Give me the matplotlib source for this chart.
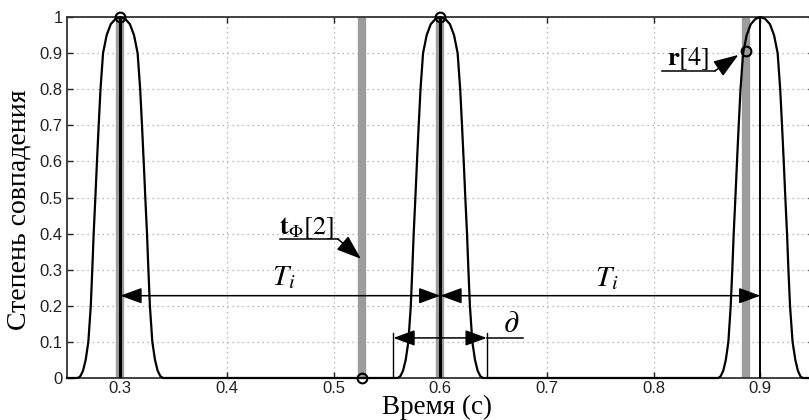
import matplotlib
matplotlib.use("Agg")
import matplotlib.pyplot as plt

# ---------------- data ----------------
pulse_values = [0, 0.005, 0.02, 0.05, 0.1, 0.2, 0.3, 0.4, 0.5, 0.6, 0.7, 0.8, 0.9,
                0.95, 0.98, 0.995, 1.0, 0.995, 0.98, 0.95, 0.9, 0.8, 0.7, 0.6, 0.5,
                0.4, 0.3, 0.2, 0.1, 0.05, 0.02, 0.005, 0]
peak1_t = [0.2600, 0.2625, 0.2650, 0.2675, 0.2700, 0.2723, 0.2737, 0.2750, 0.2766,
           0.2781, 0.2797, 0.2814, 0.2838, 0.2872, 0.2910, 0.2955, 0.3000, 0.3045,
           0.3090, 0.3128, 0.3162, 0.3186, 0.3203, 0.3219, 0.3234, 0.3250, 0.3263,
           0.3277, 0.3300, 0.3325, 0.3350, 0.3375, 0.3400]
peak2_t = [0.5600, 0.5625, 0.5650, 0.5675, 0.5700, 0.5723, 0.5737, 0.5750, 0.5766,
           0.5781, 0.5797, 0.5814, 0.5838, 0.5872, 0.5910, 0.5955, 0.6000, 0.6045,
           0.6090, 0.6128, 0.6162, 0.6186, 0.6203, 0.6219, 0.6234, 0.6250, 0.6263,
           0.6277, 0.6300, 0.6325, 0.6350, 0.6375, 0.6400]
peak3_t = [0.8605, 0.8628, 0.8652, 0.8676, 0.8700, 0.8722, 0.8737, 0.8750, 0.8766,
           0.8781, 0.8797, 0.8814, 0.8838, 0.8872, 0.8910, 0.8955, 0.9000, 0.9045,
           0.9090, 0.9128, 0.9162, 0.9186, 0.9203, 0.9219, 0.9234, 0.9250, 0.9263,
           0.9278, 0.9302, 0.9328, 0.9352, 0.9375, 0.9395]
x_start, x_end = 0.25, 0.95

peak_times = [0.3, 0.6, 0.9]            # thin black verticals
gray_times = [0.3, 0.5265, 0.6, 0.8867] # thick grey bars
circle_t = [0.3, 0.6, 0.5265, 0.8867]
circle_y = [1.0, 1.0, 0.0, 0.905]

Ti_arrow_y = 0.228
d_left, d_right, d_line_end, d_y = 0.556, 0.6435, 0.6775, 0.111

x_ticks = [0.3, 0.4, 0.5, 0.6, 0.7, 0.8, 0.9]
x_ticklabels = ["0.3", "0.4", "0.5", "0.6", "0.7", "0.8", "0.9"]
y_ticks = [0, 0.1, 0.2, 0.3, 0.4, 0.5, 0.6, 0.7, 0.8, 0.9, 1.0]
y_ticklabels = ["0", "0.1", "0.2", "0.3", "0.4", "0.5", "0.6", "0.7", "0.8", "0.9", "1"]

xlabel = "Время (с)"
ylabel = "Степень совпадения"
label_T = r"$T_i$"
label_d = r"$\partial$"
label_tf = r"$\mathbf{t}_{\Phi}\mathrm{[2]}$"
label_r = r"$\mathbf{r}\mathrm{[4]}$"

# ---------------- style ----------------
plt.rcParams["mathtext.fontset"] = "stix"
plt.rcParams["font.family"] = ["Liberation Serif", "DejaVu Serif"]

curve_t = [x_start] + peak1_t + peak2_t + peak3_t + [x_end]
curve_y = [0] + pulse_values + pulse_values + pulse_values + [0]

fig = plt.figure(figsize=(8.09, 4.2), dpi=100)
ax = fig.add_axes([67 / 809, 42 / 420, 746.7 / 809, 361 / 420])
ax.set_xlim(x_start, x_end)
ax.set_ylim(0, 1)

ax.set_xticks(x_ticks)
ax.set_xticklabels(x_ticklabels)
ax.set_yticks(y_ticks)
ax.set_yticklabels(y_ticklabels)
for lab in ax.get_xticklabels() + ax.get_yticklabels():
    lab.set_family(["Liberation Sans", "DejaVu Sans"])
    lab.set_fontsize(12)
    lab.set_color("#222222")
ax.tick_params(direction="in", length=4, width=1.0, top=True, right=True,
               colors="#222222")
ax.tick_params(axis="y", pad=3)
ax.tick_params(axis="x", pad=2)
for s in ax.spines.values():
    s.set_linewidth(1.3)
    s.set_color("#333333")

ax.grid(True, linestyle=(0, (1, 3)), color="#a5a5a5", linewidth=0.9)
ax.set_axisbelow(True)

# grey bars
for t in gray_times:
    ax.axvline(t, color="#9c9c9c", lw=6.0, zorder=2)
# black vertical lines at peaks
for t, w in zip(peak_times, [2.2, 2.2, 1.4]):
    ax.axvline(t, color="black", lw=w, zorder=3)

# curve
ax.plot(curve_t, curve_y, color="black", lw=1.6, zorder=4, clip_on=False)

# circles
ax.plot(circle_t, circle_y, linestyle="none", marker="o", ms=7, mfc="none",
        mec="black", mew=1.5, zorder=6, clip_on=False)

arrow_kw = dict(arrowstyle="<|-|>,head_length=0.6,head_width=0.22", color="black",
                lw=1.1, shrinkA=0, shrinkB=0, mutation_scale=22)
# T_i arrows
ax.annotate("", xy=(peak_times[0], Ti_arrow_y), xytext=(peak_times[1], Ti_arrow_y),
            arrowprops=arrow_kw, zorder=5)
ax.annotate("", xy=(peak_times[1], Ti_arrow_y), xytext=(peak_times[2], Ti_arrow_y),
            arrowprops=arrow_kw, zorder=5)
ax.text(0.4534, 0.258, label_T, fontsize=21, ha="center", va="baseline", zorder=7)
ax.text(0.7563, 0.255, label_T, fontsize=21, ha="center", va="baseline", zorder=7)

# ∂ dimension
ax.plot([d_left, d_left], [0, 0.125], color="black", lw=1.0, zorder=5)
ax.plot([d_right, d_right], [0, 0.125], color="black", lw=1.0, zorder=5)
ax.plot([d_right, d_line_end], [d_y, d_y], color="black", lw=1.1, zorder=5)
ax.annotate("", xy=(d_left, d_y), xytext=(d_right, d_y), arrowprops=arrow_kw, zorder=5)
ax.text(0.6665, 0.128, label_d, fontsize=22, ha="center", va="baseline", zorder=7)

# t_Φ[2] leader
lead_kw = dict(arrowstyle="-|>,head_length=0.7,head_width=0.25", color="black",
               lw=1.1, shrinkA=0, shrinkB=0, mutation_scale=22)
ax.plot([0.4497, 0.504], [0.385, 0.385], color="black", lw=1.1, zorder=5)
ax.annotate("", xy=(0.5256, 0.33), xytext=(0.504, 0.385), arrowprops=lead_kw, zorder=5)
ax.text(0.4487, 0.399, label_tf, fontsize=19, ha="left", va="baseline", zorder=7)

# r[4] leader
ax.plot([0.8078, 0.8575], [0.851, 0.851], color="black", lw=1.1, zorder=5)
ax.annotate("", xy=(0.8794, 0.895), xytext=(0.8575, 0.851), arrowprops=lead_kw, zorder=5)
ax.text(0.8125, 0.867, label_r, fontsize=19, ha="left", va="baseline", zorder=7)

ax.set_xlabel(xlabel, fontsize=19.5)
ax.set_ylabel(ylabel, fontsize=20)
ax.xaxis.set_label_coords(0.496, -0.046)
ax.yaxis.set_label_coords(-0.047, 0.465)

fig.savefig("out.png", dpi=100)
